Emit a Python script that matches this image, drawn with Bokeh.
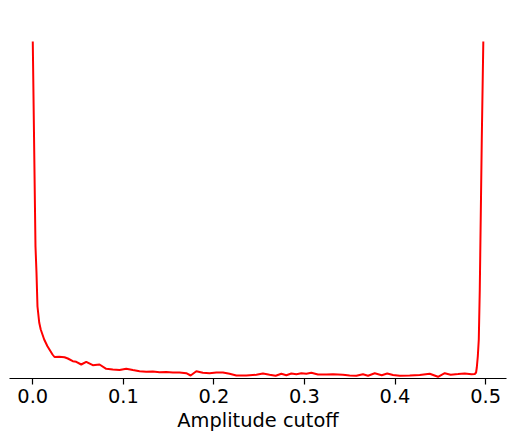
from bokeh.plotting import figure
from bokeh.models import Range1d, FixedTicker
from bokeh.embed import file_html
from bokeh.resources import INLINE

# Amplitude cutoff (x) and relative density (y, arbitrary units)
cutoff = [0.0000, 0.0030, 0.0041, 0.0052, 0.0071, 0.0088, 0.0126, 0.0162, 0.0218,
          0.0240, 0.0292, 0.0350, 0.0387, 0.0442, 0.0480, 0.0535, 0.0590, 0.0663,
          0.0737, 0.0811, 0.0884, 0.0958, 0.1032, 0.1105, 0.1179, 0.1253, 0.1326,
          0.1400, 0.1474, 0.1547, 0.1621, 0.1695, 0.1743, 0.1806, 0.1878, 0.1952,
          0.2027, 0.2099, 0.2173, 0.2248, 0.2358, 0.2469, 0.2541, 0.2615, 0.2682,
          0.2745, 0.2800, 0.2855, 0.2911, 0.2966, 0.3021, 0.3076, 0.3149, 0.3242,
          0.3315, 0.3425, 0.3499, 0.3573, 0.3646, 0.3702, 0.3776, 0.3853, 0.3914,
          0.3978, 0.4052, 0.4162, 0.4273, 0.4383, 0.4475, 0.4549, 0.4615, 0.4696,
          0.4770, 0.4844, 0.4881, 0.4895, 0.4903, 0.4914, 0.4925, 0.4936, 0.4947,
          0.4958, 0.4975]
density = [337, 132, 106, 72, 56, 49, 39, 32.3, 24,
           21.5, 21.7, 21.3, 20, 17.3, 16.7, 14, 16.7, 13.3,
           14, 9.7, 9, 8.5, 9.8, 8.5, 7.3, 6.7, 7,
           6.3, 6.5, 6, 6, 5.3, 3, 7.3, 5.7, 5.3,
           6, 6, 4.7, 3, 3, 3.7, 5, 3.7, 2.7,
           4.7, 3.3, 5, 4.3, 5.3, 4.7, 5.7, 4, 4,
           4.3, 3.7, 3, 2.7, 4.2, 2.8, 5.2, 3.3, 5,
           3.5, 2.8, 3, 3.5, 4.8, 1.7, 5.3, 3.8, 4.4,
           5, 4.3, 4.5, 6, 11, 22, 39, 89, 164,
           239, 337]

tick_values = [0.0, 0.1, 0.2, 0.3, 0.4, 0.5]
tick_labels = ["0.0", "0.1", "0.2", "0.3", "0.4", "0.5"]

p = figure(frame_width=497, frame_height=354, output_backend="svg", toolbar_location=None,
           x_range=Range1d(-0.0257, 0.5231), y_range=Range1d(0, 354),
           y_axis_location=None, min_border_left=9, min_border_right=1,
           min_border_top=24, min_border_bottom=56)
p.outline_line_color = None
p.xgrid.visible = False
p.ygrid.visible = False
p.background_fill_color = "white"
p.border_fill_color = "white"

p.line(cutoff, density, line_color="#ff0000", line_width=2)

ax = p.xaxis[0]
ax.ticker = FixedTicker(ticks=tick_values)
ax.major_label_overrides = {v: l for v, l in zip(tick_values, tick_labels)}
ax.minor_tick_line_color = None
ax.major_tick_in = 0
ax.major_tick_out = 6
ax.axis_line_color = "black"
ax.axis_line_width = 1.2
ax.major_tick_line_color = "black"
ax.major_tick_line_width = 1.2
ax.major_label_text_font = "DejaVu Sans"
ax.major_label_text_font_size = "19.4px"
ax.major_label_text_color = "black"
ax.major_label_standoff = 4
ax.axis_label = "Amplitude cutoff"
ax.axis_label_text_font = "DejaVu Sans"
ax.axis_label_text_font_size = "19.4px"
ax.axis_label_text_font_style = "normal"
ax.axis_label_text_color = "black"
ax.axis_label_standoff = 3

open("out.html", "w").write(file_html(p, INLINE))
